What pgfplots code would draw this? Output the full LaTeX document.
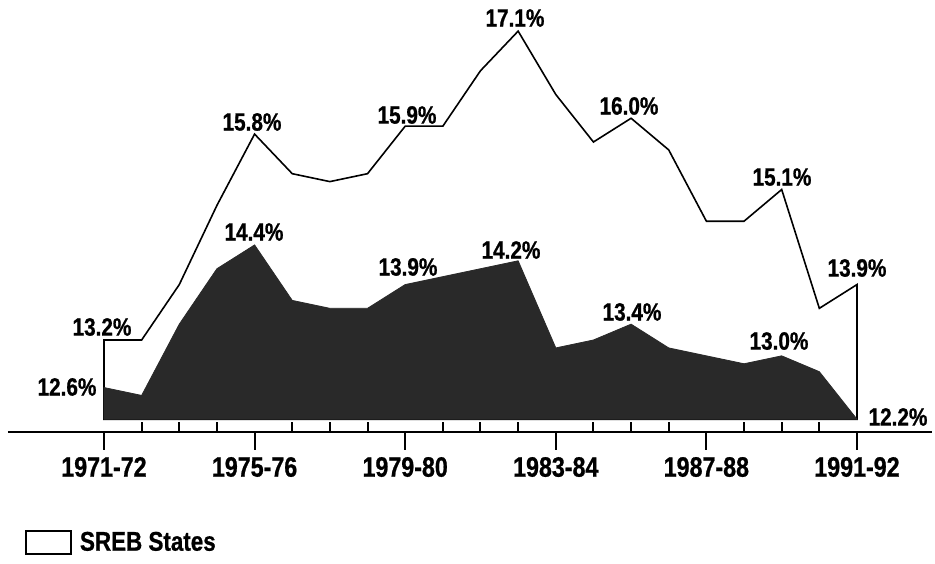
\documentclass[border=0pt]{standalone}
\usepackage{fontspec}
\setmainfont{Liberation Sans}[FakeStretch=0.83, BoldFeatures={FakeBold=0.8}]
\usepackage{pgfplots}
\usepackage{pgfplotstable}
\pgfplotsset{compat=1.18}
\definecolor{darkfill}{gray}{0.16}
\pgfplotstableread{
x sreb
0 12.2
0 13.2
1 13.2
2 13.9
3 14.9
4 15.8
5 15.3
6 15.2
7 15.3
8 15.9
9 15.9
10 16.6
11 17.1
12 16.3
13 15.7
14 16.0
15 15.6
16 14.7
17 14.7
18 15.1
19 13.6
20 13.9
20 12.2
}\srebtable
\pgfplotstableread{
x state
0 12.2
0 12.6
1 12.5
2 13.4
3 14.1
4 14.4
5 13.7
6 13.6
7 13.6
8 13.9
9 14.0
10 14.1
11 14.2
12 13.1
13 13.2
14 13.4
15 13.1
16 13.0
17 12.9
18 13.0
19 12.8
20 12.2
}\statetable
\begin{document}
\begin{tikzpicture}
\begin{axis}[
  x=18.825pt, y=39.6pt,
  xmin=-2.55, xmax=21.99, ymin=12.0384, ymax=17.493,
  axis x line*=bottom,
  axis y line=none,
  axis line style={line width=1.1pt, black},
  xtick={0,4,8,12,16,20},
  xticklabels={\textbf{1971-72},\textbf{1975-76},\textbf{1979-80},\textbf{1983-84},\textbf{1987-88},\textbf{1991-92}},
  minor xtick={1,2,3,5,6,7,9,10,11,13,14,15,17,18,19},
  tick align=inside,
  major tick length=-9pt,
  minor tick length=5pt,
  tick style={line width=1pt, black},
  xticklabel style={anchor=north, inner sep=0pt, yshift=-12.35pt, font=\bfseries\fontsize{14}{14}\selectfont},
  clip=false,
  legend style={draw=none, fill=none, at={(axis cs:-2.098,10.64)}, anchor=west, inner sep=0pt,
    font=\bfseries\fontsize{13.5}{14}\selectfont},
  legend image code/.code={\draw[line width=0.8pt, fill=white] (0pt,-5.75pt) rectangle (22.5pt,5.75pt);},
]
\addplot[fill=white, draw=black, line width=0.8pt, line join=miter] table[x=x, y=sreb]{\srebtable} -- cycle;
\addlegendentry{\hspace{2pt}SREB States}
\addplot[fill=darkfill, draw=darkfill, line width=0.4pt, forget plot] table[x=x, y=state]{\statetable} -- cycle;

\begin{scope}[every node/.style={font=\bfseries\fontsize{12.5}{12.5}\selectfont, inner sep=0pt, anchor=center}]
\node at (axis cs:-0.053,13.364) {13.2\%};
\node at (axis cs:-0.983,12.607) {12.6\%};
\node at (axis cs:3.931,15.953) {15.8\%};
\node at (axis cs:3.984,14.564) {14.4\%};
\node at (axis cs:8.048,16.041) {15.9\%};
\node at (axis cs:8.074,14.122) {13.9\%};
\node at (axis cs:10.916,17.266) {17.1\%};
\node at (axis cs:10.810,14.336) {14.2\%};
\node at (axis cs:13.944,16.155) {16.0\%};
\node at (axis cs:14.024,13.554) {13.4\%};
\node at (axis cs:18.008,15.258) {15.1\%};
\node at (axis cs:17.928,13.187) {13.0\%};
\node at (axis cs:20.0,14.109) {13.9\%};
\node at (axis cs:21.089,12.228) {12.2\%};
\end{scope}
\coordinate (bl) at (axis cs:-2.762,10.372);
\coordinate (tr) at (axis cs:22.072,17.493);
\end{axis}
\pgfresetboundingbox
\path[use as bounding box] (bl) rectangle (tr);
\end{tikzpicture}
\end{document}
